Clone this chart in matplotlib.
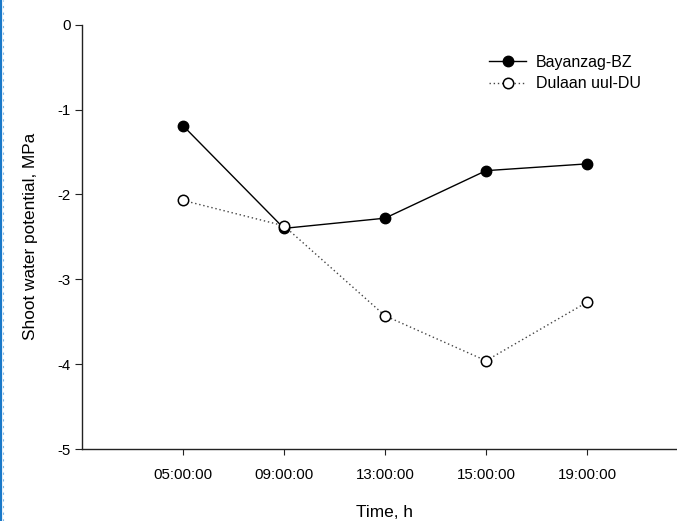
import matplotlib.pyplot as plt
from matplotlib.lines import Line2D

plt.rcParams['font.family'] = ['Liberation Sans', 'DejaVu Sans']

times = ['05:00:00', '09:00:00', '13:00:00', '15:00:00', '19:00:00']
bz_values = [-1.19, -2.40, -2.28, -1.72, -1.64]
du_values = [-2.07, -2.37, -3.43, -3.96, -3.27]

fig = plt.figure(figsize=(6.77, 5.21), dpi=100)
W, H = 677, 521
# axes box in pixels: left 82, top 24.7, bottom 449, spacing 101 px per category
ax = fig.add_axes([82 / W, (H - 449) / H, 606 / W, (449 - 24.7) / H])

x = list(range(1, len(times) + 1))
ax.plot(x, bz_values, color='black', linestyle='-', linewidth=1.0,
        marker='o', markersize=7.5, markerfacecolor='black',
        markeredgecolor='black', label='Bayanzag-BZ')
ax.plot(x, du_values, color='#444444', linestyle=(0, (1, 2)), linewidth=1.0,
        marker='o', markersize=7.5, markerfacecolor='white',
        markeredgecolor='black', markeredgewidth=1.1, label='Dulaan uul-DU')

ax.set_xlim(0, 6)
ax.set_ylim(-5, 0)
ax.set_xticks(x)
ax.set_xticklabels(times)
ax.set_yticks([0, -1, -2, -3, -4, -5])
ax.set_yticklabels(['0', '-1', '-2', '-3', '-4', '-5'])

for side in ['top', 'right']:
    ax.spines[side].set_visible(False)
for side in ['left', 'bottom']:
    ax.spines[side].set_linewidth(1.0)
    ax.spines[side].set_color('#222222')

ax.tick_params(axis='both', direction='out', length=4, width=0.8,
               labelsize=10.8, colors='#222222', labelcolor='black')
ax.tick_params(axis='y', pad=3, length=5)
ax.tick_params(axis='x', pad=10)

ax.set_xlabel('Time, h', fontsize=12.4, labelpad=16)
ax.set_ylabel('Shoot water potential, MPa', fontsize=12.4, labelpad=14)

ax.legend(loc='upper left', bbox_to_anchor=(393 / 606, 1 - 16 / 424.3),
          frameon=False, fontsize=11.5, handlelength=2.3, handletextpad=0.6,
          labelspacing=0.4)

# blue border at the left edge of the screenshot
fig.add_artist(Line2D([1 / W, 1 / W], [0, 1], color='#1a78c8', linewidth=1.6))
fig.add_artist(Line2D([3.2 / W, 3.2 / W], [0, 1], color='#7fb8e6', linewidth=0.8,
                      linestyle=(0, (2, 4))))

fig.savefig('out.png', dpi=100)
